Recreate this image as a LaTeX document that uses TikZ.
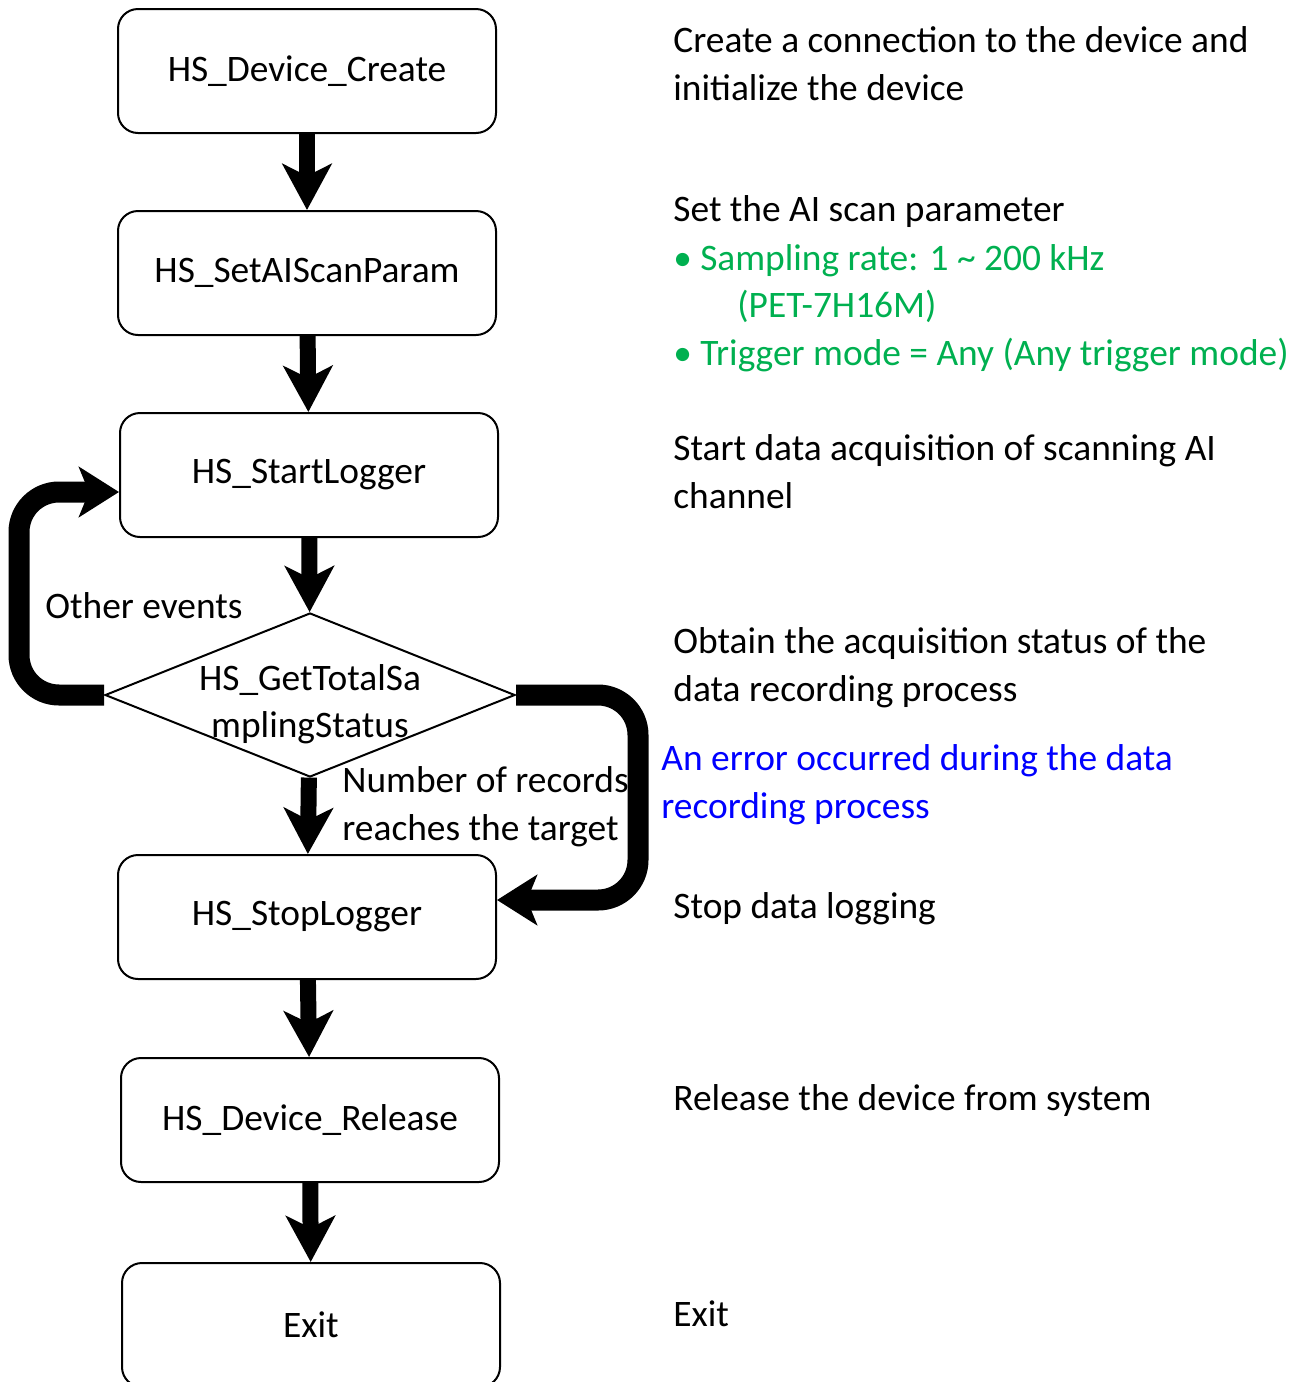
\documentclass[tikz,border=0pt]{standalone}
\usepackage{fontspec}
\setmainfont{Carlito}
\usetikzlibrary{shapes.geometric,arrows.meta}
\definecolor{listgreen}{RGB}{0,176,80}
\definecolor{errblue}{RGB}{0,0,255}

\begin{document}
\begin{tikzpicture}[x=0.5pt,y=-0.5pt,
  font=\fontsize{18.7}{23.75}\selectfont,
  func/.style={draw,line width=1pt,rounded corners=10pt,minimum width=189pt,minimum height=62pt,inner sep=0pt},
  check/.style={draw,line width=1pt,diamond,aspect=2.5,inner sep=0pt,minimum width=205pt,minimum height=82pt},
  flow/.style={line width=8pt,-{Stealth[length=23pt,width=24.5pt,inset=6pt]}},
  back/.style={line width=10.5pt,rounded corners=20pt,-{Stealth[length=20pt,width=25pt,inset=5pt]}},
  note/.style={anchor=base west,align=left,inner sep=0pt}]
  \useasboundingbox (0,0) rectangle (1304,1382);

  % flow chart
  \node[func] (create) at (307,71) {HS\_Device\_Create};
  \node[func] (param) at (307,273) {HS\_SetAIScanParam};
  \node[func] (start) at (309,475) {HS\_StartLogger};
  \node[check] (status) at (310,695) {};
  \node[align=center] (statustext) at (310,704) {HS\_GetTotalSa\\mplingStatus};
  \node[func] (stop) at (307,917) {HS\_StopLogger};
  \node[func] (release) at (310,1120) {HS\_Device\_Release};
  \node[func] (exit) at (311,1325) {Exit};

  \draw[flow] (create) -- (param);
  \draw[flow] (param) -- (start);
  \draw[flow] (start) -- (status);
  \draw[flow] (status) -- (stop);
  \draw[flow] (stop) -- (release);
  \draw[flow] (release) -- (exit);
  \draw[back] (status.west) -- ++(-85,0) |- ([yshift=-8.5pt]start.west);
  \draw[back] (status.east) -- ++(122,0) |- ([yshift=8.5pt]stop.east);

  \node[note] (other) at (45,618) {Other events};
  \node[note] (reach) at (342,840) {Number of records\\reaches the target};

  % descriptions
  \node[note] (dcreate) at (673,100) {Create a connection to the device and\\initialize the device};
  \node[note] (dparam) at (673,221) {Set the AI scan parameter};
  \node[note,text=listgreen] (dlist) at (673,365)
    {•\hspace{0.22em}Sampling rate: 1 \textasciitilde{} 200 kHz\\
     \hspace*{1.71em}(PET-7H16M)\\
     •\hspace{0.22em}Trigger mode = Any (Any trigger mode)};
  \node[note] (dstart) at (673,508) {Start data acquisition of scanning AI\\channel};
  \node[note] (dstatus) at (673,701) {Obtain the acquisition status of the\\data recording process};
  \node[note,text=errblue] (derror) at (661,818) {An error occurred during the data\\recording process};
  \node[note] (dstop) at (673,918) {Stop data logging};
  \node[note] (drelease) at (673,1110) {Release the device from system};
  \node[note] (dexit) at (673,1326) {Exit};
\end{tikzpicture}
\end{document}
